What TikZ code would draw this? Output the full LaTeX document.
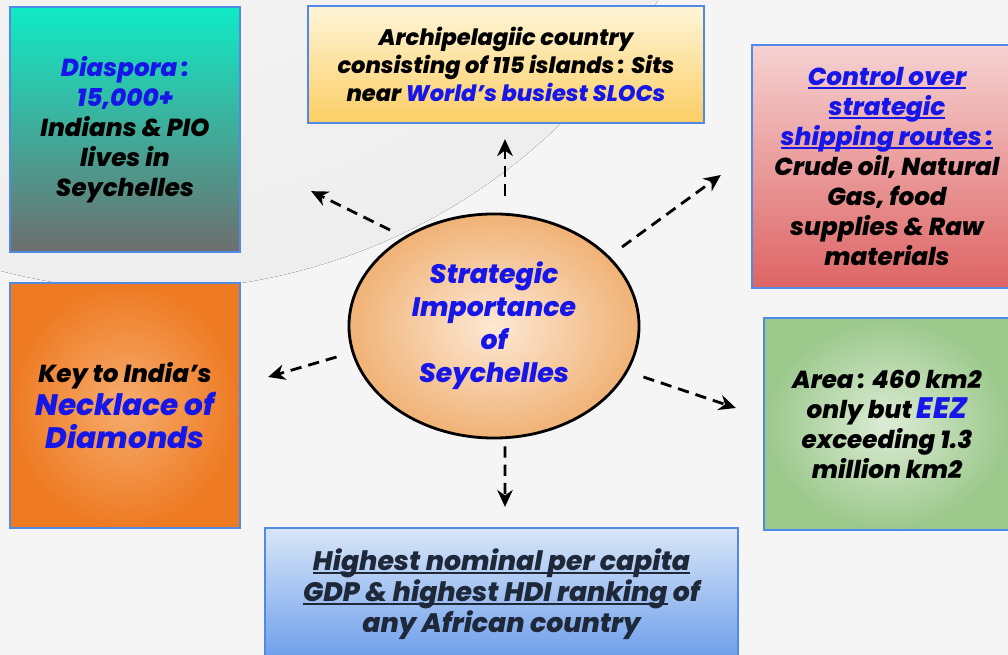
\documentclass[tikz,border=0pt]{standalone}
\usepackage{fontspec}
\setmainfont{Poppins}[BoldItalicFont={Poppins ExtraBold Italic}]
\usepackage{xcolor}
\usepackage{tikz}
\usetikzlibrary{shapes,arrows,positioning,calc,arrows.meta}

\definecolor{bggray}{RGB}{245,245,245}
\definecolor{boxblue}{RGB}{80,138,230}
\definecolor{txtblue}{RGB}{22,22,232}
\definecolor{txtnavy}{RGB}{30,40,56}
\newcommand{\bodyfont}{\fontsize{17.5}{21.3}\selectfont\bfseries\itshape}
\newcommand{\headfont}{\fontsize{19}{23.5}\selectfont\bfseries\itshape}
\newcommand{\gemfont}{\fontsize{21}{24}\selectfont\bfseries\itshape}
\newsavebox{\ulbox}
\newcommand{\uln}[1]{\sbox{\ulbox}{#1}\rlap{\rule[-2.4pt]{\wd\ulbox}{1.1pt}}\usebox{\ulbox}}

\begin{document}
\begin{tikzpicture}[x=0.025cm,y=-0.025cm,
    box/.style={draw=boxblue,line width=1.6pt,inner sep=0pt,align=center,font=\bodyfont},
    flow/.style={-{Stealth[length=12pt,width=11pt]},line width=2pt,dash pattern=on 8pt off 5pt}]

    % Background
    \useasboundingbox (0,0) rectangle (1008,655);
    \clip (0,0) rectangle (1008,655);
    \fill[bggray] (0,0) rectangle (1008,655);
    \fill[inner color={rgb,255:red,248;green,248;blue,248},outer color={rgb,255:red,238;green,238;blue,238}]
        (150,-300) circle[radius=590];

    % Centre
    \node[ellipse,draw,line width=2pt,minimum width=7.25cm,minimum height=5.6cm,
        inner color={rgb,255:red,253;green,232;blue,212},outer color={rgb,255:red,240;green,178;blue,118},
        align=center,font=\headfont,text=txtblue] (seych) at (494,326)
        {Strategic\\Importance\\of\\Seychelles};

    % Boxes round it
    \node[box,minimum width=5.75cm,minimum height=6.125cm,
        top color={rgb,255:red,16;green,235;blue,198},bottom color={rgb,255:red,110;green,110;blue,110}] (dias) at (125,129.5)
        {\textcolor{txtblue}{Diaspora\,:}\\\textcolor{txtblue}{15,000+}\\Indians \& PIO\\lives in\\Seychelles};
    \node[box,minimum width=9.9cm,minimum height=2.925cm,font=\fontsize{16}{20}\selectfont\bfseries\itshape,
        top color={rgb,255:red,254;green,245;blue,216},bottom color={rgb,255:red,252;green,206;blue,100}] (archi) at (506,64.5)
        {Archipelagiic country\\consisting of 115 islands\,: Sits\\near \textcolor{txtblue}{World’s busiest SLOCs}};
    \node[box,minimum width=6.75cm,minimum height=6.075cm,
        top color={rgb,255:red,246;green,210;blue,210},bottom color={rgb,255:red,222;green,100;blue,100}] (ctrl) at (887,166.5)
        {\textcolor{txtblue}{\uln{Control over}}\\\textcolor{txtblue}{\uln{strategic}}\\\textcolor{txtblue}{\uln{shipping routes\,:}}\\Crude oil, Natural\\Gas, food\\supplies \& Raw\\materials};
    \node[box,minimum width=5.75cm,minimum height=6.125cm,
        inner color={rgb,255:red,246;green,172;blue,110},outer color={rgb,255:red,238;green,122;blue,34}] (key) at (125,405.5)
        {Key to India’s\\[2pt]{\gemfont\textcolor{txtblue}{Necklace of}}\\[2pt]{\gemfont\textcolor{txtblue}{Diamonds}}};
    \node[box,minimum width=6.15cm,minimum height=5.3cm,
        inner color={rgb,255:red,220;green,236;blue,213},outer color={rgb,255:red,155;green,200;blue,139}] (area) at (887,424)
        {Area\,: 460 km2\\only but {\gemfont\textcolor{txtblue}{EEZ}}\\exceeding 1.3\\million km2};
    \node[box,minimum width=11.825cm,minimum height=3.3cm,text=txtnavy,font=\fontsize{19}{22}\selectfont\bfseries\itshape,
        top color={rgb,255:red,216;green,230;blue,248},bottom color={rgb,255:red,109;green,158;blue,235}] (high) at (501.5,594)
        {\uln{Highest nominal per capita}\\\uln{GDP \& highest HDI ranking} of\\any African country};

    % Arrows out of the centre
    \draw[flow] ($(seych.north)+(11,-17)$) -- ($(archi.south)+(-1,15)$);
    \draw[flow] ($(seych.center)+(-104,-96)$) -- ($(dias.south east)+(70,-62)$);
    \draw[flow] ($(seych.center)+(128,-79)$) -- ($(ctrl.west)+(-30,8.5)$);
    \draw[flow] ($(seych.west)+(-11,31)$) -- ($(key.east)+(27,-28.5)$);
    \draw[flow] ($(seych.east)+(3,51)$) -- ($(area.west)+(-27,-16)$);
    \draw[flow] ($(seych.south)+(11,7)$) -- ($(high.north)+(3.5,-20)$);

\end{tikzpicture}
\end{document}
